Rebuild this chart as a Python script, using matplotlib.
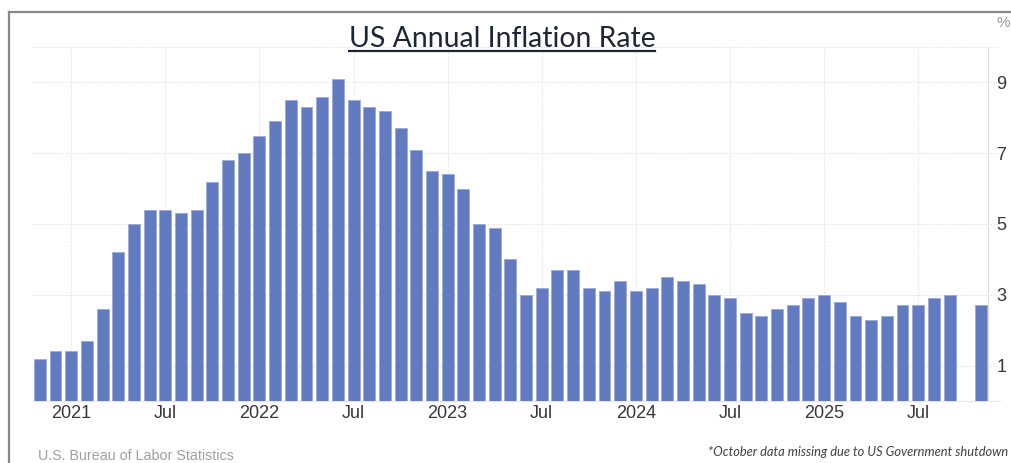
import matplotlib.pyplot as plt
from matplotlib.lines import Line2D

# ---------------------------------------------------------
# CPI year-over-year change, monthly (October 2025 not published)
# ---------------------------------------------------------
months = [
    "2020-11", "2020-12",
    "2021-01", "2021-02", "2021-03", "2021-04", "2021-05", "2021-06",
    "2021-07", "2021-08", "2021-09", "2021-10", "2021-11", "2021-12",
    "2022-01", "2022-02", "2022-03", "2022-04", "2022-05", "2022-06",
    "2022-07", "2022-08", "2022-09", "2022-10", "2022-11", "2022-12",
    "2023-01", "2023-02", "2023-03", "2023-04", "2023-05", "2023-06",
    "2023-07", "2023-08", "2023-09", "2023-10", "2023-11", "2023-12",
    "2024-01", "2024-02", "2024-03", "2024-04", "2024-05", "2024-06",
    "2024-07", "2024-08", "2024-09", "2024-10", "2024-11", "2024-12",
    "2025-01", "2025-02", "2025-03", "2025-04", "2025-05", "2025-06",
    "2025-07", "2025-08", "2025-09", "2025-11",
]
inflation = [
    1.2, 1.4,
    1.4, 1.7, 2.6, 4.2, 5.0, 5.4, 5.4, 5.3, 5.4, 6.2, 6.8, 7.0,
    7.5, 7.9, 8.5, 8.3, 8.6, 9.1, 8.5, 8.3, 8.2, 7.7, 7.1, 6.5,
    6.4, 6.0, 5.0, 4.9, 4.0, 3.0, 3.2, 3.7, 3.7, 3.2, 3.1, 3.4,
    3.1, 3.2, 3.5, 3.4, 3.3, 3.0, 2.9, 2.5, 2.4, 2.6, 2.7, 2.9,
    3.0, 2.8, 2.4, 2.3, 2.4, 2.7, 2.7, 2.9, 3.0, 2.7,
]

tick_months = ["2021-01", "2021-07", "2022-01", "2022-07", "2023-01",
               "2023-07", "2024-01", "2024-07", "2025-01", "2025-07"]
tick_labels = ["2021", "Jul", "2022", "Jul", "2023",
               "Jul", "2024", "Jul", "2025", "Jul"]
y_ticks = [1, 3, 5, 7, 9]


def month_index(s):
    # months counted from January 2021
    y, m = s.split("-")
    return (int(y) - 2021) * 12 + int(m) - 1


x = [month_index(m) for m in months]
xt = [month_index(m) for m in tick_months]

# ---------------------------------------------------------
# Figure
# ---------------------------------------------------------
W, H = 1012, 463
fig = plt.figure(figsize=(W / 100, H / 100), dpi=100)
ax = fig.add_axes([32 / W, 1 - 401 / H, (988 - 32) / W, (401 - 47) / H])

ax.bar(x, inflation, width=0.76, color="#627bc0",
       edgecolor="#9aaad8", linewidth=0.6, zorder=3)

ax.set_xlim(-2.5, 58.45)
ax.set_ylim(0, 10)

ax.set_xticks(xt)
ax.set_xticklabels(tick_labels)
ax.set_yticks(y_ticks)
ax.yaxis.tick_right()
ax.tick_params(axis="both", length=0, labelsize=13, labelcolor="#383838",
               labelfontfamily="Liberation Sans")
ax.tick_params(axis="x", pad=3)
ax.tick_params(axis="y", pad=6)

# dotted grid
ax.grid(axis="x", linestyle=(0, (1, 1.5)), color="#dedede", linewidth=0.8,
        zorder=0)
for yv in y_ticks + [10]:
    ax.plot([0, 1.012], [yv, yv], transform=ax.get_yaxis_transform(),
            linestyle=(0, (1, 1.5)), color="#dedede", linewidth=0.8,
            clip_on=False, zorder=0)

for side in ["left", "top"]:
    ax.spines[side].set_visible(False)
ax.spines["right"].set_color("#dddddd")
ax.spines["bottom"].set_color("#e6e6e6")
ax.spines["bottom"].set_bounds(-2.5, 59.2)

# ---------------------------------------------------------
# Texts
# ---------------------------------------------------------
fig.text(1003 / W, 1 - 23 / H, "%", ha="center", va="center",
         fontsize=11, color="#9a9a9a", family="Liberation Sans")

title = fig.text(502 / W, 1 - 47 / H, "US Annual Inflation Rate",
                 ha="center", va="baseline", fontsize=20.4,
                 color="#1e2535", family="Lato")

fig.text(38 / W, 1 - 456 / H, "U.S. Bureau of Labor Statistics",
         ha="left", va="center", fontsize=10.3, color="#a0a0a0",
         family="Liberation Sans")

fig.text(1008 / W, 1 - 452 / H,
         "*October data missing due to US Government shutdown",
         ha="right", va="center", fontsize=9.3, style="italic",
         color="#404040", family="Lato")

# underline the title
fig.canvas.draw()
bb = title.get_window_extent()
fig.add_artist(Line2D([bb.x0 / W, bb.x1 / W], [1 - 51 / H, 1 - 51 / H],
                      transform=fig.transFigure, color="#1e2535",
                      linewidth=1.6))

# grey frame on the top and left edges
fig.add_artist(Line2D([9.5 / W, 9.5 / W], [0, 1 - 12 / H],
                      transform=fig.transFigure, color="#888888",
                      linewidth=1.6))
fig.add_artist(Line2D([9.5 / W, 1], [1 - 12 / H, 1 - 12 / H],
                      transform=fig.transFigure, color="#888888",
                      linewidth=1.6))

fig.savefig("out.png", dpi=100)
